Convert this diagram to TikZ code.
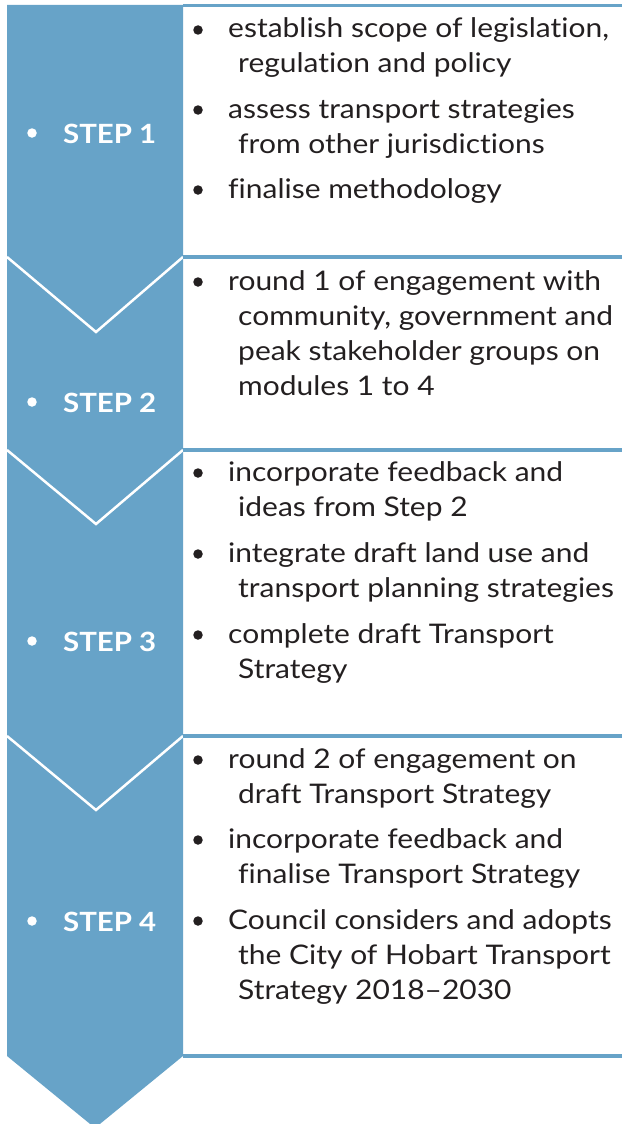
\documentclass[tikz,border=0pt]{standalone}
\usepackage{fontspec}
\setmainfont[Ligatures={TeX,NoCommon}, FakeStretch=1.11]{Lato}
\definecolor{stepblue}{HTML}{67A3C8}
\definecolor{ink}{HTML}{231F20}

\tikzset{
  column/.style={fill=stepblue},
  chevron/.style={draw=white, line width=2.5pt},
  rulebar/.style={draw=stepblue, line width=3.5pt},
  steplabel/.style={anchor=base west, inner sep=0, text=white,
    font=\fontsize{26.5}{30}\selectfont\bfseries},
  itemtext/.style={anchor=base west, inner sep=0, text=ink,
    font=\fontsize{27}{35}\selectfont},
  inkdot/.style={circle, fill=ink, minimum size=9.5pt, inner sep=0},
  whitedot/.style={circle, fill=white, minimum size=9.5pt, inner sep=0},
}
\newcommand{\itm}[1]{\parbox[t]{420pt}{#1}}
\newcommand{\cont}{\\\hspace*{10pt}}

\begin{document}
\begin{tikzpicture}[x=1pt, y=-1pt]
  \useasboundingbox (0,0) rectangle (622,1124);
  \clip (0,0) rectangle (622,1124);

  % blue step column ending in an arrow point
  \path[column] (7,5) -- (183,5) -- (183,1056) -- (95,1128) -- (7,1056) -- cycle;

  % white chevrons between the steps
  \draw[chevron] (7,257) -- (96,332) -- (183,257);
  \draw[chevron] (7,450) -- (96,524) -- (183,450);
  \draw[chevron] (7,736) -- (96,810) -- (183,736);

  % rules closing each text panel
  \foreach \y in {5.5,257,450,736,1056}
    \draw[rulebar] (183,\y) -- (622,\y);

  % step labels
  \node[whitedot] (d1) at (32,133) {};
  \node[steplabel] (s1) at (63,143) {STEP 1};
  \node[whitedot] (d2) at (32,402) {};
  \node[steplabel] (s2) at (63,412) {STEP 2};
  \node[whitedot] (d3) at (32,641) {};
  \node[steplabel] (s3) at (63,651) {STEP 3};
  \node[whitedot] (d4) at (32,921) {};
  \node[steplabel] (s4) at (63,931) {STEP 4};

  % step 1 tasks
  \node[inkdot] (b11) at (198,30) {};
  \node[itemtext] (t11) at (228,38) {\itm{establish scope of legislation,\cont regulation and policy}};
  \node[inkdot] (b12) at (198,110) {};
  \node[itemtext] (t12) at (228,118) {\itm{assess transport strategies\cont from other jurisdictions}};
  \node[inkdot] (b13) at (198,190) {};
  \node[itemtext] (t13) at (228,198) {\itm{finalise methodology}};

  % step 2 tasks
  \node[inkdot] (b21) at (198,282) {};
  \node[itemtext] (t21) at (228,290) {\itm{round 1 of engagement with\cont community, government and\cont peak stakeholder groups on\cont modules 1 to 4}};

  % step 3 tasks
  \node[inkdot] (b31) at (198,473) {};
  \node[itemtext] (t31) at (228,481) {\itm{incorporate feedback and\cont ideas from Step 2}};
  \node[inkdot] (b32) at (198,554) {};
  \node[itemtext] (t32) at (228,562) {\itm{integrate draft land use and\cont transport planning strategies}};
  \node[inkdot] (b33) at (198,635) {};
  \node[itemtext] (t33) at (228,643) {\itm{complete draft Transport\cont Strategy}};

  % step 4 tasks
  \node[inkdot] (b41) at (198,760) {};
  \node[itemtext] (t41) at (228,768) {\itm{round 2 of engagement on\cont draft Transport Strategy}};
  \node[inkdot] (b42) at (198,840) {};
  \node[itemtext] (t42) at (228,848) {\itm{incorporate feedback and\cont finalise Transport Strategy}};
  \node[inkdot] (b43) at (198,921) {};
  \node[itemtext] (t43) at (228,929) {\itm{Council considers and adopts\cont the City of Hobart Transport\cont Strategy 2018--2030}};
\end{tikzpicture}
\end{document}
